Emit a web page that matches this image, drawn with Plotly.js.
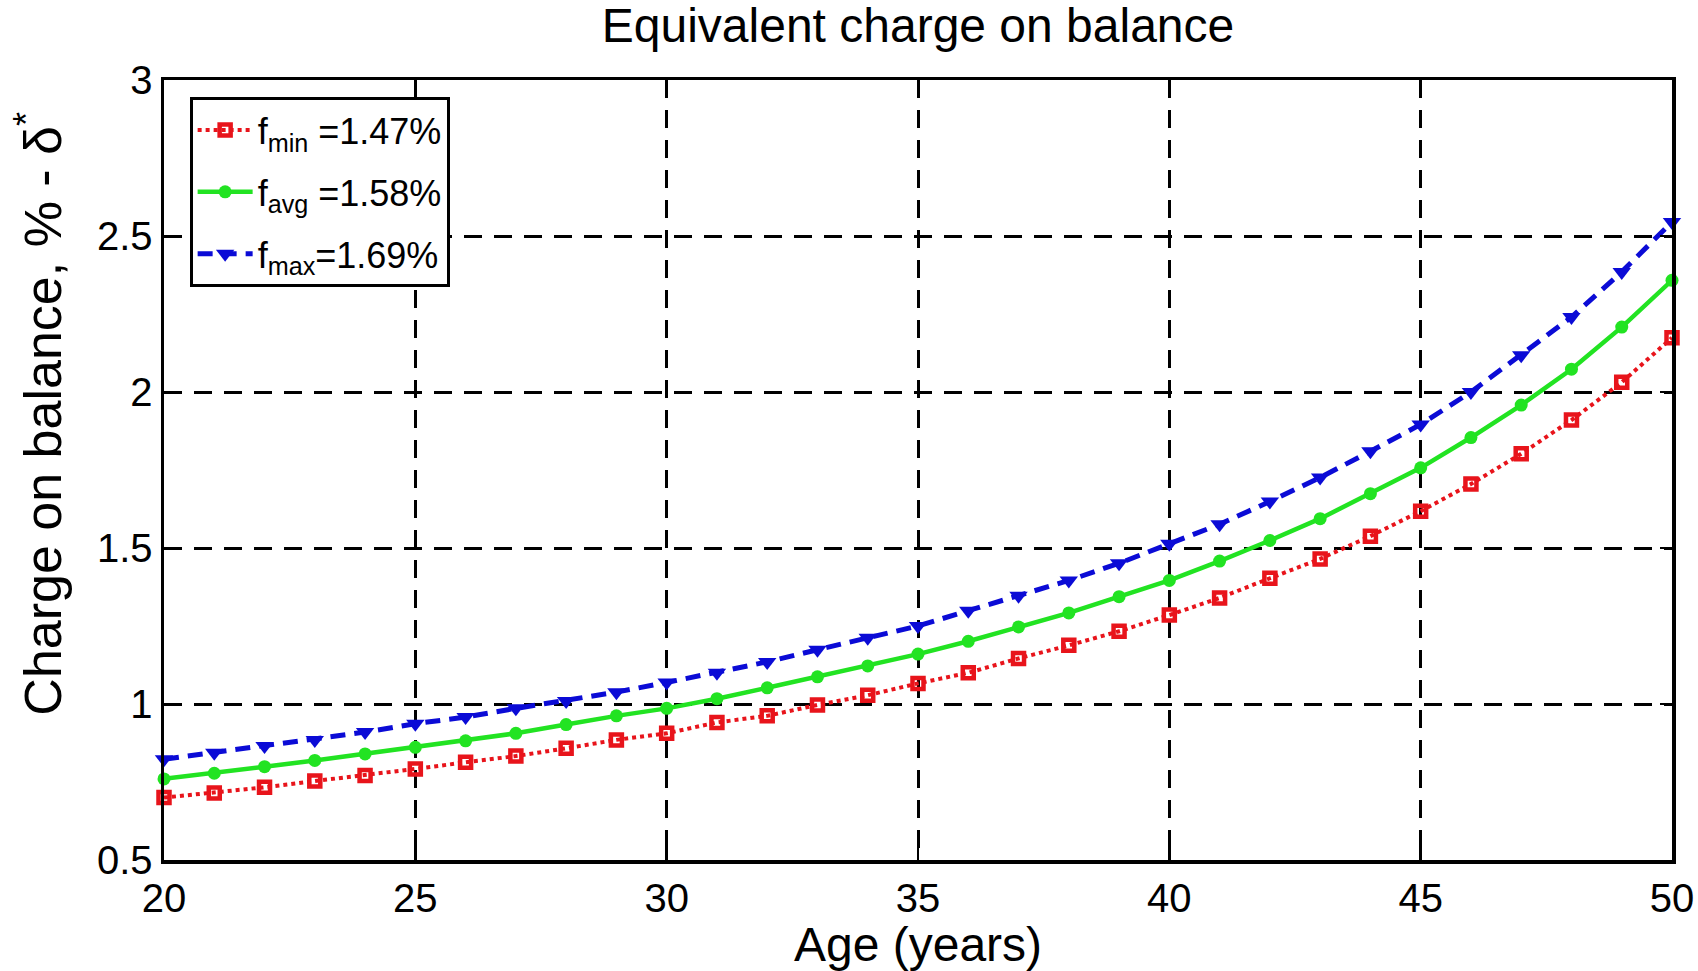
<!DOCTYPE html>
<html>
<head>
<meta charset="utf-8">
<script src="https://cdn.plot.ly/plotly-3.0.1.min.js"></script>
<style>html,body{margin:0;padding:0;background:#fff;}#chart{width:1698px;height:971px;}</style>
</head>
<body>
<div id="chart"></div>
<script>
const ages = [20,21,22,23,24,25,26,27,28,29,30,31,32,33,34,35,36,37,38,39,40,41,42,43,44,45,46,47,48,49,50];
const fMin = [0.70,0.715,0.733,0.753,0.771,0.792,0.813,0.833,0.858,0.885,0.906,0.941,0.962,0.997,1.028,1.066,1.10,1.146,1.188,1.233,1.285,1.34,1.403,1.465,1.538,1.618,1.705,1.802,1.91,2.031,2.174];
const fAvg = [0.760,0.778,0.799,0.819,0.840,0.861,0.882,0.906,0.934,0.962,0.986,1.017,1.052,1.087,1.122,1.16,1.201,1.247,1.292,1.344,1.396,1.458,1.524,1.594,1.674,1.757,1.854,1.958,2.073,2.208,2.358];
const fMax = [0.823,0.844,0.865,0.885,0.910,0.937,0.958,0.986,1.010,1.038,1.069,1.10,1.135,1.174,1.212,1.25,1.299,1.347,1.396,1.451,1.514,1.576,1.649,1.726,1.81,1.896,2.0,2.118,2.24,2.385,2.545];
const seriesNames = ["f<sub>min</sub> =1.47%","f<sub>avg</sub> =1.58%","f<sub>max</sub>=1.69%"];
const xTicks = [20,25,30,35,40,45,50];
const yTicks = [0.5,1,1.5,2,2.5,3];
const titleText = 'Equivalent charge on balance';
const xTitle = 'Age (years)';
const yTitle = 'Charge on balance, % - δ<sup>*</sup>';

const FONT = "Liberation Sans, Arial, Helvetica, sans-serif";

const traces = [
  {x: ages, y: fMin, name: seriesNames[0], legendgroup: 'a', type: 'scatter', mode: 'lines+markers', cliponaxis: false,
   line: {color: '#e8141b', width: 4, dash: '4px,4px'},
   marker: {symbol: 'square-open', size: 11, color: '#e8141b', line: {width: 4.5, color: '#e8141b'}}},
  {x: ages, y: fAvg, name: seriesNames[1], legendgroup: 'b', type: 'scatter', mode: 'lines+markers', cliponaxis: false,
   line: {color: '#22e322', width: 4.5},
   marker: {symbol: 'circle', size: 13, color: '#22e322'}},
  {x: ages, y: fMax, name: seriesNames[2], legendgroup: 'c', type: 'scatter', mode: 'lines+markers', cliponaxis: false,
   line: {color: '#0b0bd6', width: 5, dash: '15px,9px'},
   marker: {symbol: 'triangle-down', size: 16, color: '#0b0bd6'}}
];

const layout = {
  width: 1698, height: 971,
  margin: {l: 164, r: 26, t: 80, b: 111},
  paper_bgcolor: '#ffffff', plot_bgcolor: '#ffffff',
  font: {family: FONT, color: '#000', size: 40},
  title: {text: titleText, font: {family: FONT, size: 48, color: '#000'},
          x: 0.5, xanchor: 'center', y: 1 - 25/971, yanchor: 'middle', xref: 'paper'},
  showlegend: true,
  legend: {x: 0.017, y: 0.978, xanchor: 'left', yanchor: 'top',
           bgcolor: '#ffffff', bordercolor: '#000', borderwidth: 3,
           font: {family: FONT, size: 36, color: '#000'}, tracegroupgap: 12, itemwidth: 55},
  xaxis: {range: [20, 50], tickvals: xTicks, ticks: 'inside', ticklen: 12, tickwidth: 2.5, tickcolor: '#000',
          showline: true, linecolor: '#000', linewidth: 3.5, mirror: 'ticks',
          showgrid: true, gridcolor: '#000', gridwidth: 3, griddash: '18px,12px', zeroline: false,
          tickfont: {family: FONT, size: 40, color: '#000'},
          title: {text: xTitle, font: {family: FONT, size: 48, color: '#000'}, standoff: 10}},
  yaxis: {range: [0.5, 3], tickvals: yTicks, ticks: 'inside', ticklen: 12, tickwidth: 2.5, tickcolor: '#000',
          showline: true, linecolor: '#000', linewidth: 3.5, mirror: 'ticks',
          showgrid: true, gridcolor: '#000', gridwidth: 3, griddash: '18px,12px', zeroline: false,
          tickfont: {family: FONT, size: 40, color: '#000'}},
  annotations: [
    {text: yTitle, xref: 'paper', yref: 'paper', x: -0.0830, y: 0.572, xanchor: 'center', yanchor: 'middle',
     textangle: -90, showarrow: false, font: {family: FONT, size: 52, color: '#000'}}
  ]
};

Plotly.newPlot('chart', traces, layout, {displayModeBar: false, staticPlot: true});
</script>
</body>
</html>
